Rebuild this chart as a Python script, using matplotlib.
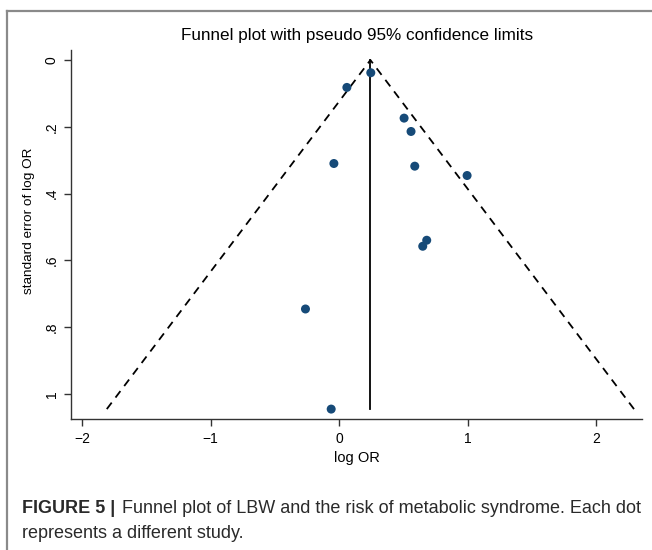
import matplotlib
matplotlib.use("Agg")
import matplotlib.pyplot as plt
from matplotlib.lines import Line2D

# study estimates (log OR) and their standard errors
log_or = [0.246, 0.060, 0.505, 0.559, -0.041, 0.588, 0.995, 0.681, 0.650, -0.262, -0.062]
se = [0.038, 0.082, 0.174, 0.214, 0.310, 0.318, 0.346, 0.540, 0.558, 0.746, 1.046]
pooled = 0.243
se_max = max(se)

xticks = [-2, -1, 0, 1, 2]
xtick_labels = ["\u22122", "\u22121", "0", "1", "2"]
yticks = [0, 0.2, 0.4, 0.6, 0.8, 1]
ytick_labels = ["0", ".2", ".4", ".6", ".8", "1"]

plt.rcParams["font.family"] = ["Liberation Sans", "DejaVu Sans"]

fig = plt.figure(figsize=(6.52, 5.5), dpi=100)
ax = fig.add_axes([0.109, 0.238, 0.876, 0.671])

# pseudo 95% limits
ax.plot([pooled - 1.96 * se_max, pooled, pooled + 1.96 * se_max], [se_max, 0, se_max],
        color="black", lw=1.3, ls=(0, (4.5, 3.5)))
ax.plot([pooled, pooled], [0, se_max], color="black", lw=1.3)
ax.scatter(log_or, se, s=42, color="#164a78", zorder=3, edgecolors="none")

ax.set_xlim(-2.085, 2.357)
ax.set_ylim(1.076, -0.03)
ax.set_xticks(xticks)
ax.set_xticklabels(xtick_labels, fontsize=10)
ax.set_yticks(yticks)
ax.set_yticklabels(ytick_labels, fontsize=10, rotation=90, va="center")
ax.tick_params(length=5, width=1, color="#333333", pad=4)
for side in ["top", "right"]:
    ax.spines[side].set_visible(False)
for side in ["left", "bottom"]:
    ax.spines[side].set_color("#333333")
    ax.spines[side].set_linewidth(1.0)

ax.set_xlabel("log OR", fontsize=10.5, labelpad=4)
ax.set_ylabel("standard error of log OR", fontsize=9.7)
ax.yaxis.set_label_coords(-0.063, 0.537)
ax.set_title("Funnel plot with pseudo 95% confidence limits", fontsize=12.3, pad=7)

# frame lines of the figure box
fig.add_artist(Line2D([0.0115, 1.0], [0.98, 0.98], color="#8a8a8a", lw=1.6))
fig.add_artist(Line2D([0.0115, 0.0115], [0.0, 0.98], color="#8a8a8a", lw=1.6))

cap_color = "#2a2a2a"
bold = fig.text(0.034, 0.068, "FIGURE 5 |", fontsize=13, fontweight="bold", color=cap_color)
fig.canvas.draw()
bb = bold.get_window_extent().transformed(fig.transFigure.inverted())
fig.text(bb.x1 + 0.01, 0.068, "Funnel plot of LBW and the risk of metabolic syndrome. Each dot",
         fontsize=13, color=cap_color)
fig.text(0.034, 0.022, "represents a different study.", fontsize=13, color=cap_color)

fig.savefig("out.png", dpi=100)
